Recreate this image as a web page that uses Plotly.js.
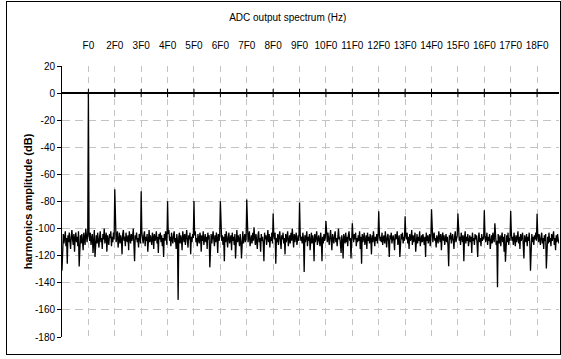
<!DOCTYPE html>
<html>
<head>
<meta charset="utf-8">
<script src="https://cdn.plot.ly/plotly-3.0.1.min.js"></script>
<style>
html,body{margin:0;padding:0;background:#fff;}
#wrap{position:relative;width:561px;height:359px;}
#chart{position:absolute;left:0;top:0;width:561px;height:359px;}
#frame{position:absolute;left:6px;top:1px;width:553px;height:352px;border:1px solid #000;pointer-events:none;}
</style>
</head>
<body>
<div id="wrap"><div id="chart"></div><div id="frame"></div></div>
<script>
// Harmonic labels (tick labels on the top axis)
const harmonicLabels = ["F0","2F0","3F0","4F0","5F0","6F0","7F0","8F0","9F0","10F0","11F0","12F0","13F0","14F0","15F0","16F0","17F0","18F0"];
const harmonicOrder = [1,2,3,4,5,6,7,8,9,10,11,12,13,14,15,16,17,18];
// Y-axis tick labels (dB)
const dbTickVals = [20,0,-20,-40,-60,-80,-100,-120,-140,-160,-180];
const dbTickText = ["20","0","-20","-40","-60","-80","-100","-120","-140","-160","-180"];
// FFT bins per fundamental
const binsPerF0 = 40;
// Spectrum amplitude in dB, one value per FFT bin; each row = one F0 interval, starting at the harmonic bin
const row00 = [-131,-108,-104,-111,-106,-102,-113,-107,-126,-105,-110,-103,-109,-115,-106,-101,-108,-112,-104,-117,-107,-103,-110,-106,-113,-102,-128,-108,-105,-111,-104,-109,-116,-103,-107,-112,-100,-106,-110,-104];
const row01 = [0,-105,-109,-103,-112,-107,-104,-118,-106,-101,-121,-108,-105,-111,-103,-109,-114,-106,-102,-110,-107,-115,-104,-108,-100,-111,-106,-103,-117,-105,-109,-112,-104,-107,-102,-113,-106,-110,-103,-108];
const row02 = [-70.9,-104,-110,-106,-102,-114,-107,-103,-111,-105,-108,-119,-104,-101,-109,-106,-113,-103,-108,-110,-105,-116,-102,-107,-111,-104,-109,-106,-100,-112,-124,-105,-108,-103,-110,-107,-114,-104,-106,-111];
const row03 = [-72.4,-103,-108,-111,-105,-102,-113,-106,-109,-104,-117,-107,-101,-110,-105,-108,-112,-103,-106,-115,-104,-109,-107,-102,-111,-106,-118,-104,-108,-103,-110,-105,-113,-107,-121,-104,-109,-102,-107,-112];
const row04 = [-79.8,-104,-101,-109,-106,-113,-103,-108,-111,-105,-102,-110,-107,-115,-104,-109,-152.6,-106,-103,-111,-105,-108,-116,-102,-107,-110,-104,-112,-106,-101,-109,-114,-105,-108,-103,-119,-106,-110,-104,-107];
const row05 = [-79.6,-105,-102,-110,-107,-113,-104,-108,-111,-103,-106,-117,-105,-109,-102,-112,-107,-104,-110,-106,-115,-103,-108,-105,-128.6,-109,-104,-111,-106,-102,-108,-113,-105,-110,-103,-107,-118,-104,-109,-106];
const row06 = [-79.8,-103,-109,-105,-112,-106,-124,-104,-110,-102,-108,-114,-106,-103,-111,-107,-105,-116,-103,-109,-106,-112,-104,-122,-107,-101,-110,-105,-108,-113,-104,-109,-122,-106,-102,-111,-107,-104,-110,-108];
const row07 = [-78.5,-104,-110,-106,-102,-113,-107,-105,-111,-103,-109,-99,-106,-112,-104,-108,-115,-105,-102,-110,-107,-117,-104,-109,-106,-111,-124,-103,-108,-105,-112,-107,-101,-110,-104,-114,-106,-109,-103,-111];
const row08 = [-88.9,-105,-108,-103,-126,-107,-110,-104,-112,-106,-102,-109,-115,-105,-108,-103,-111,-107,-119,-104,-110,-106,-102,-113,-108,-105,-111,-103,-109,-100,-107,-114,-104,-110,-106,-103,-112,-108,-105,-109];
const row09 = [-80.7,-104,-109,-106,-111,-103,-108,-132,-105,-110,-107,-102,-113,-106,-109,-104,-116,-107,-103,-111,-105,-108,-124,-104,-110,-106,-102,-112,-107,-105,-109,-113,-103,-108,-124,-106,-111,-104,-109,-107];
const row10 = [-94.4,-105,-110,-103,-108,-112,-106,-101,-109,-116,-104,-107,-111,-105,-102,-110,-107,-113,-104,-100,-108,-106,-112,-118,-105,-109,-122,-104,-107,-111,-103,-110,-106,-113,-105,-102,-109,-107,-122,-104];
const row11 = [-96,-106,-110,-104,-108,-103,-113,-107,-110,-105,-109,-102,-115,-106,-126,-104,-110,-107,-103,-112,-108,-105,-115,-103,-109,-106,-111,-104,-108,-119,-105,-110,-102,-107,-113,-106,-109,-104,-111,-107];
const row12 = [-87.2,-104,-109,-106,-110,-103,-112,-107,-105,-111,-102,-108,-114,-106,-104,-110,-121,-105,-108,-103,-111,-107,-105,-109,-116,-104,-108,-106,-102,-112,-107,-105,-121,-110,-104,-108,-103,-111,-106,-109];
const row13 = [-90.9,-105,-108,-103,-111,-106,-115,-104,-109,-107,-101,-112,-105,-110,-106,-103,-117,-108,-104,-111,-106,-109,-102,-113,-107,-105,-110,-104,-108,-112,-106,-121,-103,-109,-105,-111,-107,-104,-113,-108];
const row14 = [-85.7,-104,-110,-106,-103,-109,-107,-114,-105,-108,-111,-102,-106,-110,-104,-116,-107,-103,-109,-105,-112,-108,-104,-110,-106,-113,-127.7,-105,-108,-103,-111,-107,-104,-109,-115,-106,-102,-110,-107,-105];
const row15 = [-88.9,-104,-109,-106,-112,-103,-108,-110,-105,-124,-107,-102,-111,-106,-109,-104,-113,-108,-105,-110,-106,-118,-103,-109,-107,-112,-104,-108,-105,-111,-121,-106,-103,-110,-107,-113,-104,-109,-106,-108];
const row16 = [-86.4,-105,-110,-107,-103,-112,-106,-109,-104,-115,-108,-105,-111,-103,-107,-110,-96,-106,-112,-109,-143.2,-104,-108,-111,-105,-113,-107,-103,-110,-106,-117,-104,-124.5,-108,-105,-110,-103,-112,-107,-109];
const row17 = [-87,-104,-109,-106,-112,-103,-108,-113,-105,-110,-107,-102,-111,-106,-115,-104,-109,-107,-103,-112,-122,-105,-108,-110,-104,-113,-106,-109,-103,-111,-131,-107,-104,-110,-106,-112,-105,-108,-103,-109];
const row18 = [-89,-105,-110,-104,-108,-112,-106,-103,-111,-107,-115,-105,-109,-104,-129.5,-108,-106,-111,-103,-110,-107,-113,-104,-109,-106,-102,-112,-107,-116,-105,-110,-104,-108,-111];

const spectrumDb = [].concat(row00,row01,row02,row03,row04,row05,row06,row07,row08,row09,row10,row11,row12,row13,row14,row15,row16,row17,row18);
const freqAxis = spectrumDb.map((v, i) => i / binsPerF0);

const FONT = 'Arial, "Liberation Sans", sans-serif';
const GRID = '#c4c4c4';

const traces = [
  {
    x: freqAxis, y: spectrumDb, type: 'scatter', mode: 'lines',
    line: {color: '#000', width: 1.3}, hoverinfo: 'skip', showlegend: false
  },
  {
    x: harmonicOrder, y: harmonicOrder.map(() => 0), type: 'scatter', mode: 'markers',
    marker: {symbol: 'line-ns', size: 6, line: {color: '#000', width: 1}}, hoverinfo: 'skip', showlegend: false
  }
];

const layout = {
  width: 561, height: 359,
  margin: {l: 62, r: 2, t: 66, b: 22, pad: 0},
  paper_bgcolor: '#fff', plot_bgcolor: '#fff',
  font: {family: FONT, size: 10, color: '#000'},
  title: {text: 'ADC output spectrum (Hz)', font: {family: FONT, size: 10, color: '#000'},
          x: 0.513, xref: 'container', xanchor: 'center', y: 0.95, yref: 'container', yanchor: 'middle'},
  xaxis: {
    side: 'top', range: [0, 18.83], tickvals: harmonicOrder, ticktext: harmonicLabels,
    ticks: 'outside', ticklen: 12, tickcolor: 'rgba(0,0,0,0)',
    showgrid: true, gridcolor: GRID, griddash: '6px,5px', gridwidth: 1,
    showline: false, zeroline: false, tickfont: {family: FONT, size: 10, color: '#000'}
  },
  yaxis: {
    range: [-180, 20], tickvals: dbTickVals, ticktext: dbTickText,
    ticks: 'outside', ticklen: 4, tickcolor: '#000', tickwidth: 1,
    showline: true, linecolor: '#000', linewidth: 1,
    showgrid: true, gridcolor: GRID, griddash: '8px,5px', gridwidth: 1,
    zeroline: true, zerolinecolor: '#000', zerolinewidth: 1.3,
    tickfont: {family: FONT, size: 10, color: '#000'},
    title: {text: '<b>harmonics amplitude (dB)</b>', font: {family: FONT, size: 11, color: '#000'}, standoff: 0}
  }
};

Plotly.newPlot('chart', traces, layout, {displayModeBar: false, staticPlot: true});
</script>
</body>
</html>
